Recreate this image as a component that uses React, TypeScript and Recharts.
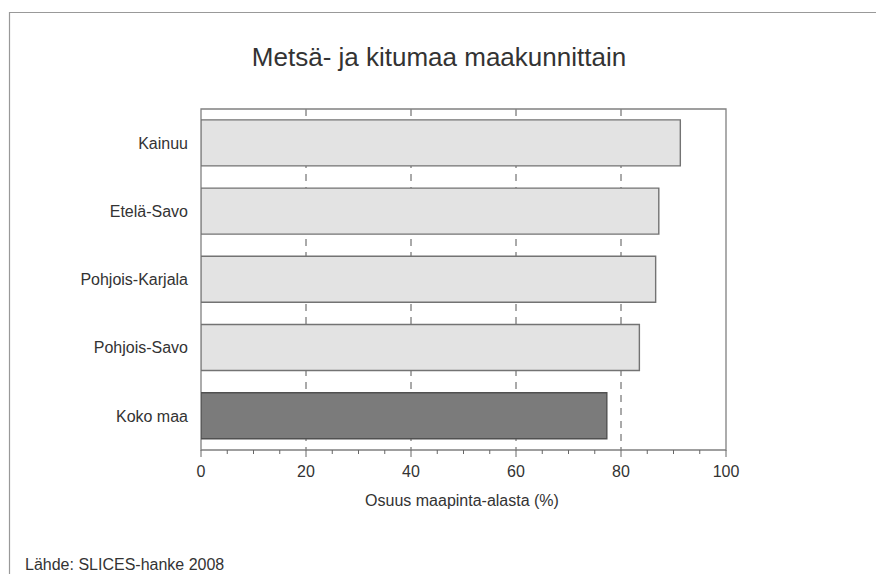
import { BarChart, Bar, XAxis, YAxis, CartesianGrid, ReferenceArea, Cell } from 'recharts';

// Metsä- ja kitumaan osuus maapinta-alasta, %
const regions = ['Kainuu', 'Etelä-Savo', 'Pohjois-Karjala', 'Pohjois-Savo', 'Koko maa'];
const shares = [91.3, 87.2, 86.6, 83.5, 77.3];

const xTicks = [0, 5, 10, 15, 20, 25, 30, 35, 40, 45, 50, 55, 60, 65, 70, 75, 80, 85, 90, 95, 100];
const xLabelTicks = [0, 20, 40, 60, 80, 100];
const gridTicks = [20, 40, 60, 80];

const data = regions.map((name, i) => ({ name, value: shares[i] }));

const FONT = '"Liberation Sans", Arial, sans-serif';
const TEXT = '#333';
const COLORS = {
    region: '#e3e3e3',
    regionStroke: '#737373',
    total: '#7b7b7b',
    totalStroke: '#505050',
    grid: '#555',
    frame: '#808080',
};

function XTick(props: any) {
    const { x, y, payload } = props;
    const major = xLabelTicks.includes(payload.value);
    return (
        <g>
            <line x1={x} x2={x} y1={y} y2={y + (major ? 7 : 4)} stroke="#666" strokeWidth={1} />
            {major && (
                <text x={x} y={y + 27} textAnchor="middle" fontSize={16} fill={TEXT} fontFamily={FONT}>
                    {payload.value}
                </text>
            )}
        </g>
    );
}

export default function App() {
    return (
        <div style={{ position: 'absolute', left: 0, top: 0, width: 876, height: 574, background: '#fff', fontFamily: FONT }}>
            <BarChart
                width={876}
                height={574}
                data={data}
                layout="vertical"
                margin={{ top: 109, right: 150, bottom: 64, left: 0 }}
                barCategoryGap="16%"
            >
                {/* hidden axis only feeds the dashed grid (20..80, no edge lines) */}
                <XAxis xAxisId="grid" type="number" domain={[0, 100]} ticks={gridTicks} allowDataOverflow hide />
                <CartesianGrid
                    xAxisId="grid"
                    horizontal={false}
                    syncWithTicks
                    stroke={COLORS.grid}
                    strokeDasharray="7 6"
                />
                <XAxis
                    type="number"
                    domain={[0, 100]}
                    ticks={xTicks}
                    interval={0}
                    height={60}
                    axisLine={false}
                    tickLine={false}
                    tickSize={0}
                    tickMargin={0}
                    tick={<XTick />}
                    allowDataOverflow
                />
                <YAxis
                    type="category"
                    dataKey="name"
                    width={201}
                    axisLine={false}
                    tickLine={false}
                    tickSize={0}
                    tickMargin={13}
                    tick={{ fontSize: 16, fill: TEXT, fontFamily: FONT }}
                />
                <Bar dataKey="value" isAnimationActive={false}>
                    {data.map((d, i) => (
                        <Cell
                            key={d.name}
                            fill={i === data.length - 1 ? COLORS.total : COLORS.region}
                            stroke={i === data.length - 1 ? COLORS.totalStroke : COLORS.regionStroke}
                            strokeWidth={1.4}
                        />
                    ))}
                </Bar>
                <ReferenceArea
                    x1={0}
                    x2={100}
                    ifOverflow="visible"
                    fill="#fff"
                    fillOpacity={0}
                    stroke={COLORS.frame}
                    strokeWidth={1.3}
                />
            </BarChart>
            <svg width={876} height={574} style={{ position: 'absolute', left: 0, top: 0, pointerEvents: 'none' }}>
                <line x1={9} x2={876} y1={12.5} y2={12.5} stroke="#999" strokeWidth={1.2} />
                <line x1={9.5} x2={9.5} y1={12} y2={574} stroke="#999" strokeWidth={1.2} />
                <text x={439} y={66} textAnchor="middle" fontSize={26} fill={TEXT} fontFamily={FONT}>
                    Metsä- ja kitumaa maakunnittain
                </text>
                <text x={462} y={506} textAnchor="middle" fontSize={16} fill={TEXT} fontFamily={FONT}>
                    Osuus maapinta-alasta (%)
                </text>
                <text x={25} y={570} fontSize={16} fill={TEXT} fontFamily={FONT}>
                    Lähde: SLICES-hanke 2008
                </text>
            </svg>
        </div>
    );
}
